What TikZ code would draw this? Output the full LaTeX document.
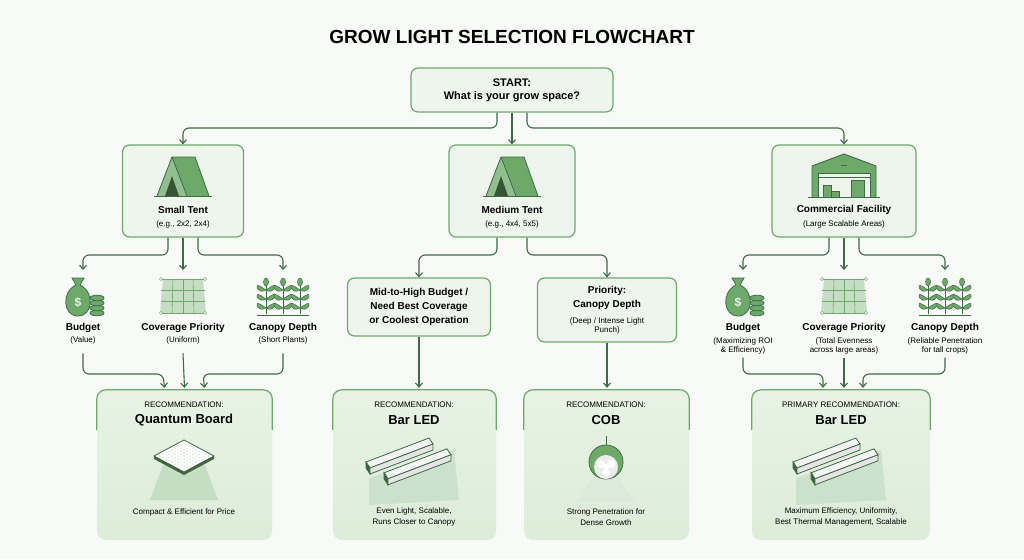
\documentclass[tikz,border=0pt]{standalone}
\usepackage{fontspec}
\setmainfont{Liberation Sans}
\usetikzlibrary{arrows.meta,calc}
\definecolor{dg}{HTML}{3E6B45}
\definecolor{mg}{HTML}{6DAA6A}
\definecolor{lg}{HTML}{EEF5EC}
\definecolor{rg}{HTML}{DDEDD8}
\begin{document}
\begin{tikzpicture}[x=1pt,y=-1pt,
 box/.style={draw=mg,line width=1.2pt,rounded corners=7pt,fill=lg,align=center},
 rec/.style={draw=none,rounded corners=9pt,top color=rg!70,bottom color=rg,align=center},
 arr/.style={draw=dg,line width=1.1pt,rounded corners=6pt,-{Straight Barb[length=4pt,width=7pt]}},
 lab/.style={align=center,font=\bfseries\fontsize{10}{11}\selectfont},
 sub/.style={align=center,font=\fontsize{8}{9}\selectfont},
 icon/.style={fill=mg,draw=dg,line width=0.8pt}]
\fill[white] (0,0) rectangle (1024,559);
\fill[lg!50] (0,0) rectangle (1024,559);
\node[font=\bfseries\fontsize{19}{22}\selectfont] (title) at (512,37) {GROW LIGHT SELECTION FLOWCHART};
% start
\node[box,minimum width=202,minimum height=44,font=\bfseries\fontsize{11}{13}\selectfont] (start) at (512,90) {START:\\What is your grow space?};
% level 1
\node[box,minimum width=121,minimum height=92] (st) at (183,191) {};
\node[box,minimum width=126,minimum height=92] (mt) at (512,191) {};
\node[box,minimum width=144,minimum height=92] (cf) at (844,191) {};
\node[lab] (stl) at (183,210) {Small Tent};
\node[sub] (sts) at (183,224) {(e.g., 2x2, 2x4)};
\node[lab] (mtl) at (512,210) {Medium Tent};
\node[sub] (mts) at (512,224) {(e.g., 4x4, 5x5)};
\node[lab] (cfl) at (844,210) {Commercial Facility};
\node[sub] (cfs) at (844,224) {(Large Scalable Areas)};
\draw[arr] (start.south) ++(-15,0) |- (300,128) -| (st.north);
\draw[arr] (start.south) -- (mt.north);
\draw[arr] (start.south) ++(15,0) |- (700,128) -| (cf.north);
% tent icons
\foreach \c in {183,512}{
 \fill[mg] (\c-26,196) -- (\c-11,157) -- (\c+12,157) -- (\c+26,196) -- cycle;
 \fill[mg!75] (\c-26,196) -- (\c-11,157) -- (\c+4,196) -- cycle;
 \fill[mg!50!black] (\c-18,196) -- (\c-11,176) -- (\c-4,196) -- cycle;
 \draw[dg,line width=1.2pt] (\c-29,196.5) -- (\c+29,196.5);
 \draw[dg,line width=0.8pt] (\c-26,196) -- (\c-11,157) -- (\c+12,157) -- (\c+26,196) (\c-11,157) -- (\c+4,196);
}
% warehouse
\fill[mg] (812,197) -- (812,166) -- (844,154) -- (876,166) -- (876,197) -- cycle;
\draw[dg,line width=0.9pt] (812,197) -- (812,166) -- (844,154) -- (876,166) -- (876,197);
\draw[dg,line width=0.9pt] (841,165) -- (847,165);
\fill[lg] (818,173) rectangle (870,197);
\draw[dg,line width=0.8pt] (818,173) rectangle (870,197) (818,177) -- (870,177);
\fill[mg,draw=dg,line width=0.6pt] (823,185) rectangle (831,197) (831,191) rectangle (839,197) (851,180) rectangle (864,197);
\draw[dg,line width=1.2pt] (808,197.5) -- (880,197.5);
% small tent children
\coordinate (b1) at (83,270); \coordinate (b2) at (183,270); \coordinate (b3) at (283,270);
\draw[arr] ($(st.south)+(-15,0)$) |- (120,255) -| (b1);
\draw[arr] (st.south) -- (b2);
\draw[arr] ($(st.south)+(15,0)$) |- (250,255) -| (b3);
\coordinate (c1) at (743,270); \coordinate (c2) at (844,270); \coordinate (c3) at (945,270);
\draw[arr] ($(cf.south)+(-15,0)$) |- (780,255) -| (c1);
\draw[arr] (cf.south) -- (c2);
\draw[arr] ($(cf.south)+(15,0)$) |- (910,255) -| (c3);
% icons
\foreach \x in {78,738}{
 \fill[icon] (\x-6,278) -- (\x+6,278) -- (\x+2,285) .. controls (\x+17,292) and (\x+15,316) .. (\x,316) .. controls (\x-15,316) and (\x-17,292) .. (\x-2,285) -- cycle;
 \node[font=\bfseries\fontsize{12}{12}\selectfont,text=lg] at (\x,302) {\$};
 \foreach \k in {0,1,2,3} \draw[icon] (\x+19,313-\k*5) ellipse (7 and 2.8);
}
\foreach \x in {183,844}{
 \fill[mg!40] (\x-20,279) -- (\x+20,279) -- (\x+23,313) -- (\x-23,313) -- cycle;
 \foreach \k in {0,1,2,3} \draw[mg,line width=0.6pt] (\x-22,279+\k*11.3) -- (\x+22,279+\k*11.3);
 \foreach \k in {-1,0,1} \draw[mg,line width=0.6pt] (\x+\k*10,279) -- (\x+\k*11,313);
 \foreach \p in {(\x-22,279),(\x+22,279),(\x-22,313),(\x+22,313)} \draw[mg,fill=lg] \p circle (1.6);
}
\foreach \x in {283,945}{
 \foreach \d in {-17,0,17}{
  \draw[dg,line width=1pt] (\x+\d,282) -- (\x+\d,314);
  \foreach \yy in {290,299,308}{
   \fill[mg,draw=dg,line width=0.5pt] (\x+\d,\yy) .. controls (\x+\d-9,\yy-6) .. (\x+\d-9,\yy-2) .. controls (\x+\d-5,\yy+2) .. (\x+\d,\yy);
   \fill[mg,draw=dg,line width=0.5pt] (\x+\d,\yy) .. controls (\x+\d+9,\yy-6) .. (\x+\d+9,\yy-2) .. controls (\x+\d+5,\yy+2) .. (\x+\d,\yy);
  }
  \fill[mg,draw=dg,line width=0.5pt] (\x+\d,282) ellipse (2.5 and 4);}
 \draw[dg,line width=1pt] (\x-26,315) -- (\x+26,315);
}
\node[lab] (l1) at (83,328) {Budget};
\node[sub] (s1) at (83,340) {(Value)};
\node[lab] (l2) at (183,328) {Coverage Priority};
\node[sub] (s2) at (183,340) {(Uniform)};
\node[lab] (l3) at (283,328) {Canopy Depth};
\node[sub] (s3) at (283,340) {(Short Plants)};
\node[lab] (k1) at (743,328) {Budget};
\node[sub,anchor=north] (t1) at (743,334) {(Maximizing ROI\\\& Efficiency)};
\node[lab] (k2) at (844,328) {Coverage Priority};
\node[sub,anchor=north] (t2) at (844,334) {(Total Evenness\\across large areas)};
\node[lab] (k3) at (945,328) {Canopy Depth};
\node[sub,anchor=north] (t3) at (945,334) {(Reliable Penetration\\for tall crops)};
% medium children
\node[box,minimum width=143,minimum height=58,font=\bfseries\fontsize{10}{14}\selectfont] (m1) at (419,307) {Mid-to-High Budget /\\Need Best Coverage\\or Coolest Operation};
\node[box,minimum width=139,minimum height=64] (m2) at (607,310) {};
\node[lab] (m2a) at (607,291) {Priority:};
\node[lab] (m2b) at (607,305) {Canopy Depth};
\node[sub] (m2c) at (607,326) {(Deep / Intense Light\\Punch)};
\draw[arr] ($(mt.south)+(-15,0)$) |- (450,255) -| (m1.north);
\draw[arr] ($(mt.south)+(15,0)$) |- (580,255) -| (m2.north);
% rec boxes
\node[rec,minimum width=175,minimum height=150] (r1) at (184.5,465) {};
\node[rec,minimum width=163,minimum height=150] (r2) at (414.5,465) {};
\node[rec,minimum width=165,minimum height=150] (r3) at (606.5,465) {};
\node[rec,minimum width=178,minimum height=150] (r4) at (841,465) {};
\foreach \r in {r1,r2,r3,r4}{
 \draw[mg,line width=1.2pt,rounded corners=9pt] ($(\r.north west)+(0,40)$) -- (\r.north west) -- (\r.north east) -- ($(\r.north east)+(0,40)$);
}
\draw[arr] (s1.south) ++(0,6) |- (163,374) -- ($(r1.north)+(-20,-2)$);
\draw[arr] (s2.south) ++(0,6) -- ($(r1.north)+(0,-2)$);
\draw[arr] (s3.south) ++(0,6) |- (203,374) -- ($(r1.north)+(20,-2)$);
\draw[arr] (m1.south) -- ($(r2.north)+(4.5,-2)$);
\draw[arr] (m2.south) -- ($(r3.north)+(0.5,-2)$);
\draw[arr] (t1.south) |- (823,374) -- ($(r4.north)+(-18,-2)$);
\draw[arr] (t2.south) -- ($(r4.north)+(3,-2)$);
\draw[arr] (t3.south) |- (863,374) -- ($(r4.north)+(22,-2)$);
\tikzset{rh/.style={font=\fontsize{8}{9}\selectfont},rt/.style={font=\bfseries\fontsize{13}{14}\selectfont},rd/.style={align=center,font=\fontsize{8}{10.5}\selectfont}}
\node[rh] (h1) at (184,405) {RECOMMENDATION:};
\node[rt] (n1) at (184,420) {Quantum Board};
\node[rd] (d1) at (184,512) {Compact \& Efficient for Price};
\node[rh] (h2) at (414,405) {RECOMMENDATION:};
\node[rt] (n2) at (414,420) {Bar LED};
\node[rd] (d2) at (414,517) {Even Light, Scalable,\\Runs Closer to Canopy};
\node[rh] (h3) at (606,405) {RECOMMENDATION:};
\node[rt] (n3) at (606,420) {COB};
\node[rd] (d3) at (606,517) {Strong Penetration for\\Dense Growth};
\node[rh] (h4) at (841,405) {PRIMARY RECOMMENDATION:};
\node[rt] (n4) at (841,420) {Bar LED};
\node[rd] (d4) at (841,517) {Maximum Efficiency, Uniformity,\\Best Thermal Management, Scalable};
% quantum board
\fill[mg!40] (163,465) -- (205,465) -- (218,500) -- (150,500) -- cycle;
\fill[white!90!lg,draw=dg,line width=0.8pt] (184,440) -- (214,456) -- (184,472) -- (154,456) -- cycle;
\fill[mg!60!black] (154,456) -- (184,472) -- (214,456) -- (214,459) -- (184,475) -- (154,459) -- cycle;
\foreach \i in {1,...,9}\foreach \j in {1,...,9}
 \fill[mg!70] ($(154,456)+(\i*3,-\i*1.6)+(\j*3,\j*1.6)$) circle (0.5);
% bar leds
\foreach \cx in {414,841}{
 \fill[mg!35] (\cx-45,478) -- (\cx+40,450) -- (\cx+45,500) -- (\cx-45,505) -- cycle;
 \foreach \o in {0,18}{
  \fill[white!92!gray,draw=dg,line width=0.8pt] (\cx-48+\o,462+\o*0.6) -- (\cx+15+\o,438+\o*0.6) -- (\cx+19+\o,444+\o*0.6) -- (\cx-44+\o,468+\o*0.6) -- cycle;
  \fill[mg!60!black,draw=dg,line width=0.8pt] (\cx-48+\o,462+\o*0.6) -- (\cx-44+\o,468+\o*0.6) -- (\cx-44+\o,474+\o*0.6) -- (\cx-48+\o,468+\o*0.6) -- cycle;
  \fill[white!80!gray,draw=dg,line width=0.8pt] (\cx-44+\o,468+\o*0.6) -- (\cx+19+\o,444+\o*0.6) -- (\cx+19+\o,450+\o*0.6) -- (\cx-44+\o,474+\o*0.6) -- cycle;
 }}
% COB
\fill[white!75!mg] (596,472) -- (616,472) -- (634,502) -- (578,502) -- cycle;
\draw[dg,line width=0.8pt] (606,436) -- (606,446);
\fill[mg,draw=dg,line width=0.8pt] (606,462) circle (17);
\fill[white!85!gray] (606,467) circle (12);
\foreach \a in {90,210,330} \fill[white] ($(606,467)+(\a:6)$) circle (4);
\fill[white] (606,467) circle (3);
\end{tikzpicture}
\end{document}
